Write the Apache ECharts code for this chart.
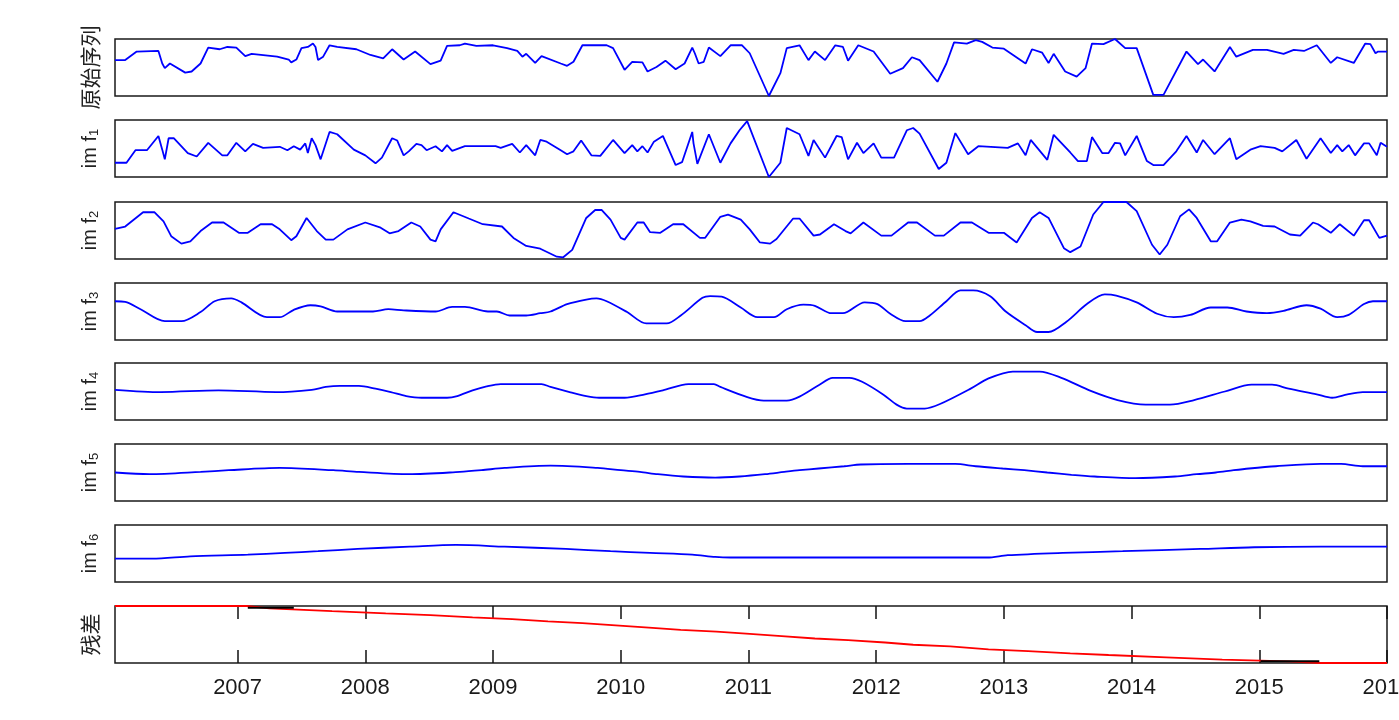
<!DOCTYPE html>
<html>
<head>
<meta charset="utf-8">
<title>EMD</title>
<script src="https://cdn.jsdelivr.net/npm/echarts@6/dist/echarts.min.js"></script>
<style>
  html, body { margin: 0; padding: 0; background: #fff; }
  #emd { width: 1399px; height: 720px; }
</style>
</head>
<body>
<div id="emd"></div>
<script>
// x range in decimal years, ticks every year
var xMin = 2006.04
var xMax = 2016
var yearTicks = [2007, 2008, 2009, 2010, 2011, 2012, 2013, 2014, 2015, 2016]

// panel names (im f with subscript)
var panelNames = ['原始序列', 'im f{s|1}', 'im f{s|2}', 'im f{s|3}', 'im f{s|4}', 'im f{s|5}', 'im f{s|6}', '残差']

// values are relative levels inside each panel (0 = bottom, 100 = top)
var original = [[2006.04,63],[2006.12,63],[2006.21,78],[2006.38,79],[2006.41,57],[2006.43,49],[2006.47,57],[2006.59,41],[2006.64,43],[2006.71,57],[2006.77,85],[2006.86,82],[2006.92,86],[2006.99,85],[2007.06,70],[2007.11,74],[2007.31,69],[2007.40,64],[2007.42,59],[2007.46,64],[2007.50,84],[2007.55,86],[2007.59,92],[2007.61,86],[2007.63,63],[2007.67,69],[2007.72,89],[2007.78,86],[2007.93,82],[2008.04,72],[2008.14,66],[2008.21,82],[2008.30,64],[2008.39,78],[2008.51,56],[2008.59,62],[2008.64,88],[2008.74,89],[2008.78,92],[2008.87,88],[2009.00,89],[2009.11,84],[2009.19,79],[2009.23,69],[2009.26,74],[2009.33,58],[2009.38,70],[2009.53,57],[2009.58,53],[2009.63,60],[2009.70,89],[2009.89,89],[2009.94,84],[2010.03,46],[2010.09,60],[2010.17,59],[2010.21,43],[2010.28,51],[2010.35,62],[2010.43,47],[2010.50,57],[2010.56,85],[2010.58,75],[2010.61,57],[2010.65,60],[2010.69,85],[2010.78,70],[2010.86,89],[2010.95,89],[2011.01,75],[2011.16,0],[2011.25,40],[2011.30,84],[2011.40,89],[2011.47,63],[2011.52,78],[2011.60,63],[2011.68,89],[2011.74,86],[2011.78,62],[2011.86,89],[2011.98,78],[2012.11,39],[2012.21,49],[2012.28,68],[2012.34,63],[2012.48,25],[2012.55,57],[2012.61,94],[2012.71,92],[2012.78,98],[2012.83,95],[2012.91,85],[2013.00,83],[2013.17,57],[2013.22,82],[2013.30,76],[2013.35,58],[2013.39,74],[2013.48,43],[2013.57,34],[2013.64,49],[2013.69,92],[2013.78,91],[2013.87,100],[2013.95,84],[2014.04,84],[2014.17,2],[2014.25,2],[2014.43,78],[2014.52,56],[2014.56,64],[2014.65,43],[2014.77,86],[2014.82,69],[2014.95,81],[2015.06,81],[2015.19,74],[2015.27,81],[2015.35,79],[2015.45,89],[2015.56,58],[2015.61,68],[2015.74,58],[2015.83,92],[2015.87,91],[2015.91,75],[2015.93,78],[2016.00,78]]

var imf1 = [[2006.04,25],[2006.13,25],[2006.20,47],[2006.29,47],[2006.38,72],[2006.41,48],[2006.43,31],[2006.46,68],[2006.50,68],[2006.61,42],[2006.68,36],[2006.77,60],[2006.88,38],[2006.92,38],[2006.99,60],[2007.06,45],[2007.12,58],[2007.20,51],[2007.33,53],[2007.39,47],[2007.44,54],[2007.49,48],[2007.53,59],[2007.55,42],[2007.58,68],[2007.61,56],[2007.65,31],[2007.72,79],[2007.78,75],[2007.91,48],[2008.00,38],[2008.08,24],[2008.13,34],[2008.21,68],[2008.25,64],[2008.30,38],[2008.34,45],[2008.40,58],[2008.44,56],[2008.48,47],[2008.55,54],[2008.60,45],[2008.64,56],[2008.68,46],[2008.78,54],[2009.02,54],[2009.06,51],[2009.15,58],[2009.21,43],[2009.26,56],[2009.33,38],[2009.37,65],[2009.42,62],[2009.53,47],[2009.58,40],[2009.63,45],[2009.69,64],[2009.77,38],[2009.84,37],[2009.94,65],[2010.03,42],[2010.09,56],[2010.13,45],[2010.17,54],[2010.21,43],[2010.26,62],[2010.33,72],[2010.43,21],[2010.48,26],[2010.56,79],[2010.57,59],[2010.60,23],[2010.69,75],[2010.78,25],[2010.86,59],[2010.93,82],[2010.99,98],[2011.16,0],[2011.25,25],[2011.30,86],[2011.40,75],[2011.47,37],[2011.51,65],[2011.60,34],[2011.69,72],[2011.73,70],[2011.78,31],[2011.85,60],[2011.90,42],[2011.98,59],[2012.04,34],[2012.14,34],[2012.24,82],[2012.29,86],[2012.34,76],[2012.49,14],[2012.55,25],[2012.62,77],[2012.72,40],[2012.80,54],[2013.03,51],[2013.11,59],[2013.17,38],[2013.21,65],[2013.34,30],[2013.39,74],[2013.52,43],[2013.58,28],[2013.65,28],[2013.69,70],[2013.77,42],[2013.82,42],[2013.87,60],[2013.91,59],[2013.95,38],[2014.04,72],[2014.12,28],[2014.17,21],[2014.25,21],[2014.35,45],[2014.43,72],[2014.51,43],[2014.56,65],[2014.65,40],[2014.77,68],[2014.82,31],[2014.93,48],[2015.01,54],[2015.12,51],[2015.18,45],[2015.29,65],[2015.37,32],[2015.48,68],[2015.56,42],[2015.61,56],[2015.65,45],[2015.70,56],[2015.75,38],[2015.82,59],[2015.86,59],[2015.92,38],[2015.95,60],[2016.00,53]]

var imf2 = [[2006.04,53],[2006.12,57],[2006.26,82],[2006.35,82],[2006.42,66],[2006.48,40],[2006.56,27],[2006.63,31],[2006.71,49],[2006.80,64],[2006.89,64],[2007.01,46],[2007.08,46],[2007.18,61],[2007.27,61],[2007.33,52],[2007.42,33],[2007.46,40],[2007.54,72],[2007.62,49],[2007.69,34],[2007.75,34],[2007.86,52],[2008.00,64],[2008.12,55],[2008.19,45],[2008.26,49],[2008.36,64],[2008.43,57],[2008.51,34],[2008.55,31],[2008.59,52],[2008.69,82],[2008.81,71],[2008.92,61],[2009.07,57],[2009.16,37],[2009.26,23],[2009.37,18],[2009.50,4],[2009.55,3],[2009.62,16],[2009.73,72],[2009.80,86],[2009.85,86],[2009.92,69],[2010.00,37],[2010.03,34],[2010.13,64],[2010.18,64],[2010.23,47],[2010.31,46],[2010.41,61],[2010.49,61],[2010.62,37],[2010.66,37],[2010.78,74],[2010.84,78],[2010.94,69],[2011.01,52],[2011.09,29],[2011.17,27],[2011.22,35],[2011.35,71],[2011.40,71],[2011.51,41],[2011.56,43],[2011.67,61],[2011.76,49],[2011.80,45],[2011.90,64],[2012.04,41],[2012.12,41],[2012.25,64],[2012.32,64],[2012.46,41],[2012.53,41],[2012.66,64],[2012.75,64],[2012.88,46],[2013.00,46],[2013.10,29],[2013.22,72],[2013.28,82],[2013.35,72],[2013.47,19],[2013.52,12],[2013.60,22],[2013.70,78],[2013.78,100],[2013.96,100],[2014.04,84],[2014.16,25],[2014.22,8],[2014.28,25],[2014.38,75],[2014.45,87],[2014.51,72],[2014.62,31],[2014.67,31],[2014.77,64],[2014.86,69],[2014.93,66],[2015.03,58],[2015.12,57],[2015.24,43],[2015.32,41],[2015.42,64],[2015.46,61],[2015.56,46],[2015.63,61],[2015.74,41],[2015.82,68],[2015.86,68],[2015.94,37],[2016.00,41]]

var imf3 = [[2006.04,68],[2006.12,67],[2006.24,54],[2006.43,33],[2006.56,33],[2006.71,49],[2006.82,68],[2006.95,73],[2007.03,66],[2007.23,40],[2007.33,40],[2007.44,53],[2007.57,61],[2007.65,59],[2007.78,50],[2008.06,50],[2008.18,54],[2008.30,52],[2008.55,50],[2008.68,58],[2008.78,58],[2008.96,50],[2009.03,50],[2009.13,43],[2009.26,43],[2009.37,47],[2009.45,50],[2009.58,63],[2009.73,71],[2009.81,73],[2009.89,68],[2010.05,49],[2010.20,29],[2010.36,29],[2010.47,43],[2010.64,74],[2010.70,77],[2010.79,76],[2010.94,57],[2011.07,40],[2011.20,40],[2011.30,54],[2011.43,62],[2011.52,60],[2011.65,47],[2011.74,47],[2011.91,66],[2012.01,63],[2012.11,46],[2012.23,33],[2012.34,33],[2012.42,43],[2012.55,68],[2012.66,87],[2012.76,87],[2012.89,77],[2013.02,49],[2013.17,26],[2013.26,14],[2013.35,14],[2013.49,32],[2013.65,63],[2013.79,80],[2013.88,78],[2014.04,66],[2014.20,46],[2014.33,40],[2014.46,44],[2014.62,57],[2014.75,57],[2014.90,50],[2015.06,47],[2015.19,51],[2015.37,61],[2015.48,55],[2015.61,40],[2015.70,44],[2015.82,63],[2015.89,68],[2016.00,68]]

var imf4 = [[2006.04,53],[2006.40,49],[2006.85,52],[2007.30,49],[2007.58,53],[2007.69,58],[2007.80,60],[2007.95,60],[2008.08,55],[2008.20,49],[2008.32,42],[2008.44,39],[2008.64,39],[2008.72,42],[2008.84,52],[2008.95,59],[2009.06,63],[2009.38,63],[2009.45,58],[2009.60,49],[2009.73,42],[2009.83,39],[2010.03,39],[2010.19,45],[2010.33,52],[2010.53,63],[2010.73,63],[2010.78,58],[2010.98,41],[2011.12,34],[2011.30,34],[2011.40,41],[2011.55,61],[2011.66,74],[2011.79,74],[2011.89,67],[2012.06,44],[2012.16,27],[2012.24,20],[2012.38,20],[2012.50,28],[2012.74,55],[2012.88,73],[2013.07,85],[2013.28,85],[2013.45,74],[2013.68,51],[2013.89,35],[2014.11,27],[2014.30,27],[2014.49,35],[2014.73,50],[2014.94,62],[2015.10,62],[2015.23,55],[2015.45,45],[2015.57,39],[2015.69,45],[2015.81,49],[2016.00,49]]

var imf5 = [[2006.04,50],[2006.31,47],[2006.71,51],[2006.93,54],[2007.33,58],[2007.75,54],[2007.95,51],[2008.34,47],[2008.74,51],[2008.91,54],[2009.09,58],[2009.45,62],[2009.82,58],[2010.00,54],[2010.15,51],[2010.29,47],[2010.49,43],[2010.74,41],[2010.93,43],[2011.13,47],[2011.28,51],[2011.40,54],[2011.55,57],[2011.75,61],[2011.88,64],[2012.25,65],[2012.62,65],[2012.78,61],[2012.99,57],[2013.16,54],[2013.34,50],[2013.53,46],[2013.71,43],[2014.03,40],[2014.34,43],[2014.51,47],[2014.66,50],[2014.80,54],[2014.92,57],[2015.13,61],[2015.48,65],[2015.64,65],[2015.81,61],[2016.00,61]]

var imf6 = [[2006.04,41],[2006.33,41],[2006.63,45],[2007.08,48],[2007.37,51],[2007.63,54],[2007.94,58],[2008.35,62],[2008.71,65],[2009.09,62],[2009.57,58],[2009.92,54],[2010.23,51],[2010.56,48],[2010.74,44],[2010.86,43],[2012.87,43],[2013.03,47],[2013.46,51],[2013.93,54],[2014.54,58],[2014.96,61],[2015.48,62],[2016.00,62]]

var residual = [[2006.04,100],[2007.07,100],[2007.25,96],[2007.74,91],[2008.16,87],[2008.51,84],[2008.84,80],[2009.15,77],[2009.43,73],[2009.70,70],[2009.96,66],[2010.22,62],[2010.47,58],[2010.75,55],[2011.01,51],[2011.26,47],[2011.52,43],[2011.78,40],[2012.07,36],[2012.29,32],[2012.58,29],[2012.88,24],[2013.19,21],[2013.52,17],[2013.82,14],[2014.27,10],[2014.71,6],[2015.23,3],[2015.47,0],[2016.00,0]]

// short dark pieces drawn over the residual
var residualDarkTop = [[2007.08,97],[2007.44,97]]
var residualDarkBottom = [[2015.01,3],[2015.47,3]]

var panelData = [original, imf1, imf2, imf3, imf4, imf5, imf6, residual]

var tops = [39, 120, 202, 283, 363, 444, 525, 606]
var panelHeight = 57
var last = panelData.length - 1

var chart = echarts.init(document.getElementById('emd'))

var grids = []
var xAxes = []
var yAxes = []
var series = []

panelData.forEach(function (data, i) {
  grids.push({
    left: 115,
    right: 12,
    top: tops[i],
    height: panelHeight,
    outerBoundsMode: 'none',
    containLabel: false,
    show: true,
    backgroundColor: '#fff',
    borderColor: '#1a1a1a',
    borderWidth: 1.5
  })
  var isLast = i === last
  xAxes.push({
    gridIndex: i,
    type: 'value',
    min: xMin,
    max: xMax,
    axisLine: { show: false },
    splitLine: { show: false },
    axisTick: {
      show: isLast,
      inside: true,
      length: 13,
      customValues: yearTicks,
      lineStyle: { color: '#111', width: 1.5 }
    },
    axisLabel: {
      show: isLast,
      customValues: yearTicks,
      formatter: function (v) { return String(v) },
      fontSize: 22,
      fontFamily: 'Liberation Sans',
      color: '#1a1a1a',
      margin: 14
    }
  })
  var chinese = i === 0 || isLast
  yAxes.push({
    gridIndex: i,
    type: 'value',
    min: 0,
    max: 100,
    name: panelNames[i],
    nameLocation: 'middle',
    nameRotate: 90,
    nameGap: 14,
    nameTextStyle: {
      fontSize: chinese ? 21 : 20,
      fontFamily: chinese ? 'Noto Sans CJK SC' : 'Liberation Sans',
      color: '#222',
      rich: {
        s: { fontSize: 13, fontFamily: 'Liberation Sans', color: '#222', verticalAlign: 'bottom', padding: [8, 0, 0, 0] }
      }
    },
    axisLine: { show: false },
    axisTick: { show: false },
    axisLabel: { show: false },
    splitLine: { show: false }
  })
  series.push({
    type: 'line',
    xAxisIndex: i,
    yAxisIndex: i,
    data: data,
    showSymbol: false,
    smooth: i >= 3 && i <= 6 ? 0.3 : false,
    lineStyle: { color: isLast ? '#ff0000' : '#0000ff', width: 1.8 },
    itemStyle: { color: isLast ? '#ff0000' : '#0000ff' }
  })
})

// tick marks on the top edge of the residual panel
xAxes.push({
  gridIndex: last,
  type: 'value',
  position: 'top',
  min: xMin,
  max: xMax,
  axisLine: { show: false },
  splitLine: { show: false },
  axisLabel: { show: false },
  axisTick: {
    inside: true,
    length: 13,
    customValues: yearTicks,
    lineStyle: { color: '#111', width: 1.5 }
  }
})

;[residualDarkTop, residualDarkBottom].forEach(function (d) {
  series.push({
    type: 'line',
    xAxisIndex: last,
    yAxisIndex: last,
    data: d,
    showSymbol: false,
    lineStyle: { color: '#000', width: 2 }
  })
})

chart.setOption({
  animation: false,
  backgroundColor: '#fff',
  grid: grids,
  xAxis: xAxes,
  yAxis: yAxes,
  series: series
})
</script>
</body>
</html>
